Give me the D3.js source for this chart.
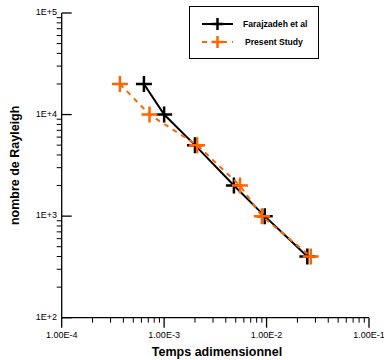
<!DOCTYPE html>
<html>
<head>
<meta charset="utf-8">
<script src="https://cdn.jsdelivr.net/npm/d3@7"></script>
<style>
body { margin:0; background:#fff; }
svg { display:block; font-family:'Liberation Sans', Arial, sans-serif; }
</style>
</head>
<body>
<script>

// data
var farajTime = [6.35e-4, 1.0e-3, 2.0e-3, 4.8e-3, 9.6e-3, 2.5e-2];
var farajRa   = [20000, 10000, 5000, 2000, 1000, 400];
var presentTime = [3.7e-4, 7.2e-4, 2.1e-3, 5.5e-3, 9.0e-3, 2.7e-2];
var presentRa   = [20000, 10000, 5000, 2000, 1000, 400];
var xTickLabels = ['1.00E-4', '1.00E-3', '1.00E-2', '1.00E-1'];
var yTickLabels = ['1E+2', '1E+3', '1E+4', '1E+5'];
var legendNames = ['Farajzadeh et al', 'Present Study'];

var colorBlack = '#000';
var colorOrange = '#ff6600';

var canvasWidth = 384;
var canvasHeight = 360;

var svg = d3.select('body').append('svg')
            .attr('width',canvasWidth)
            .attr('height',canvasHeight)

var x = d3.scaleLog()
          .domain([1e-4, 1e-1])
          .range([61.7, 369]);
var y = d3.scaleLog()
          .domain([100, 100000])
          .range([317.7, 13]);

// minor ticks
var xMinor = [];
var yMinor = [];
[1e-4, 1e-3, 1e-2].forEach(function(d){
  for (var i = 2; i < 10; i++) xMinor.push(d*i);
});
[100, 1000, 10000].forEach(function(d){
  for (var i = 2; i < 10; i++) yMinor.push(d*i);
});
var xMajor = xTickLabels.map(function(t){ return +t; });
var yMajor = yTickLabels.map(function(t){ return +t; });

// !x axis
svg.append('line')
   .attr('x1',x(1e-4)).attr('x2',x(1e-1))
   .attr('y1',y(100)).attr('y2',y(100))
   .attr('stroke',colorBlack).attr('stroke-width',1.3)
svg.selectAll('.xminor').data(xMinor).enter().append('line')
   .attr('x1',function(d){ return x(d); }).attr('x2',function(d){ return x(d); })
   .attr('y1',y(100)).attr('y2',y(100)+5)
   .attr('stroke',colorBlack).attr('stroke-width',1)
svg.selectAll('.xmajor').data(xMajor).enter().append('line')
   .attr('x1',function(d){ return x(d); }).attr('x2',function(d){ return x(d); })
   .attr('y1',y(100)).attr('y2',y(100)+10)
   .attr('stroke',colorBlack).attr('stroke-width',1.3)
svg.selectAll('.xlabel').data(xTickLabels).enter().append('text')
   .text(function(d){ return d; })
   .attr('x',function(d){ return x(+d); })
   .attr('y',338)
   .attr('text-anchor','middle')
   .style('font-size',9)

// !y axis
svg.append('line')
   .attr('x1',x(1e-4)).attr('x2',x(1e-4))
   .attr('y1',y(100)).attr('y2',y(100000))
   .attr('stroke',colorBlack).attr('stroke-width',1.3)
svg.selectAll('.yminor').data(yMinor).enter().append('line')
   .attr('x1',x(1e-4)-5).attr('x2',x(1e-4))
   .attr('y1',function(d){ return y(d); }).attr('y2',function(d){ return y(d); })
   .attr('stroke',colorBlack).attr('stroke-width',1)
svg.selectAll('.ymajor').data(yMajor).enter().append('line')
   .attr('x1',x(1e-4)).attr('x2',x(1e-4)+10)
   .attr('y1',function(d){ return y(d); }).attr('y2',function(d){ return y(d); })
   .attr('stroke',colorBlack).attr('stroke-width',1.3)
svg.selectAll('.ylabel').data(yTickLabels).enter().append('text')
   .text(function(d){ return d; })
   .attr('x',57)
   .attr('y',function(d){ return y(+d)+2; })
   .attr('text-anchor','end')
   .style('font-size',9)

// !axis titles
svg.append('text')
   .text('Temps adimensionnel')
   .attr('x',217)
   .attr('y',356)
   .attr('text-anchor','middle')
   .style('font-size',12.5)
   .style('font-weight','bold')
svg.append('text')
   .text('nombre de Rayleigh')
   .attr('transform','translate(19,'+((y(100)+y(100000))/2)+') rotate(-90)')
   .attr('text-anchor','middle')
   .style('font-size',12.5)
   .style('font-weight','bold')

// !series
function plus(g, px, py, color, half) {
  g.append('path')
   .attr('d','M'+(px-half)+','+py+'H'+(px+half)+'M'+px+','+(py-half)+'V'+(py+half))
   .attr('stroke',color)
   .attr('stroke-width',2.5)
   .attr('fill','none')
}

var line = d3.line()
             .x(function(d){ return x(d[0]); })
             .y(function(d){ return y(d[1]); });

var farajPts = d3.zip(farajTime, farajRa);
var presentPts = d3.zip(presentTime, presentRa);

var gFaraj = svg.append('g');
gFaraj.append('path')
      .attr('d',line(farajPts))
      .attr('stroke',colorBlack)
      .attr('stroke-width',2)
      .attr('fill','none')
farajPts.forEach(function(d){ plus(gFaraj, x(d[0]), y(d[1]), colorBlack, 8); });

var gPresent = svg.append('g');
gPresent.append('path')
        .attr('d',line(presentPts))
        .attr('stroke',colorOrange)
        .attr('stroke-width',2)
        .attr('stroke-dasharray','5,5')
        .attr('fill','none')
presentPts.forEach(function(d){ plus(gPresent, x(d[0]), y(d[1]), colorOrange, 8); });

// !legend
var legend = svg.append('g');
legend.append('rect')
      .attr('x',189.5).attr('y',6.5)
      .attr('width',129).attr('height',52)
      .attr('fill','#fff')
      .attr('stroke',colorBlack)
      .attr('stroke-width',1)
legend.append('line')
      .attr('x1',202).attr('x2',233).attr('y1',24).attr('y2',24)
      .attr('stroke',colorBlack).attr('stroke-width',2)
plus(legend, 217.5, 24, colorBlack, 6);
legend.append('line')
      .attr('x1',202).attr('x2',233).attr('y1',42).attr('y2',42)
      .attr('stroke',colorOrange).attr('stroke-width',2)
      .attr('stroke-dasharray','5,5')
plus(legend, 217.5, 42, colorOrange, 6);
legend.selectAll('.lname').data(legendNames).enter().append('text')
      .text(function(d){ return d; })
      .attr('x',function(d,i){ return i ? 245 : 243; })
      .attr('y',function(d,i){ return 27 + i*18; })
      .style('font-size',8.6)
      .style('font-weight','bold')

</script>
</body>
</html>
